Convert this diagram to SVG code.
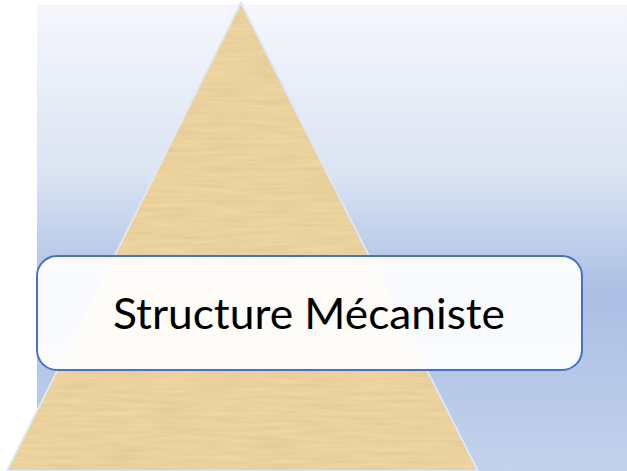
<svg xmlns="http://www.w3.org/2000/svg" width="627" height="471" viewBox="0 0 627 471">
  <defs>
    <linearGradient id="bg" x1="0" y1="0" x2="0" y2="1">
      <stop offset="0" stop-color="#F5F7FC"/>
      <stop offset="0.35" stop-color="#DCE5F3"/>
      <stop offset="0.62" stop-color="#ABBFE4"/>
      <stop offset="1" stop-color="#C3D1EC"/>
    </linearGradient>
    <filter id="papyrus" x="0" y="0" width="1" height="1">
      <feTurbulence type="fractalNoise" baseFrequency="0.02 0.25" numOctaves="3" seed="4" result="n"/>
      <feColorMatrix in="n" type="matrix" values="0 0 0 0 0.55  0 0 0 0 0.42  0 0 0 0 0.2  0 0 0 0.5 -0.12" result="tint"/>
      <feComposite in="tint" in2="SourceGraphic" operator="in" result="tex"/>
      <feMerge><feMergeNode in="SourceGraphic"/><feMergeNode in="tex"/></feMerge>
    </filter>
    <style>
      .label { font-family: Lato, "Open Sans", "Liberation Sans", sans-serif; font-size: 43px; fill: #000000; }
    </style>
  </defs>
  <rect x="0" y="0" width="627" height="471" fill="#FFFFFF"/>
  <rect id="background" x="37" y="4" width="590" height="467" fill="url(#bg)"/>
  <g id="pyramid">
    <polygon points="241,3 478,471 7,471" fill="#EFD6A2" filter="url(#papyrus)"/>
    <polygon points="241,3 478,471 7,471" fill="none" stroke="#DCE7F6" stroke-width="2"/>
  </g>
  <g id="node-structure">
    <rect x="37" y="256" width="545" height="114" rx="20" ry="20" fill="#FFFFFF" fill-opacity="0.92" stroke="#4472C4" stroke-width="2"/>
    <text class="label" x="309" y="329" text-anchor="middle" textLength="392" lengthAdjust="spacingAndGlyphs">Structure Mécaniste</text>
  </g>
  <g id="connectors"/>
</svg>
